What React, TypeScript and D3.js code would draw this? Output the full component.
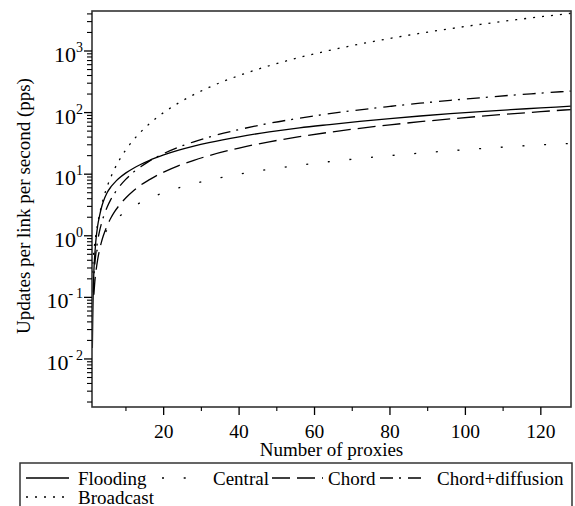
import React from "react";
import * as d3 from "d3";

const nValues = [1, 1.1, 1.2, 1.3, 1.5, 1.75, 2, 2.5, 3, 3.5, 4, 5, 6, 7, 8, 10, 12, 14, 16, 18, 20, 24, 28, 32, 40, 48, 56, 64, 72, 80, 88, 96, 104, 112, 120, 128];

const flooding = [null, 0.015, 0.045, 0.1, 0.27, 0.5, 0.8, 1.45, 2.1, 2.85, 3.6, 5.0, 6.2, 7.3, 8.4, 10.5, 12.5, 14.5, 16.5, 18.5, 20.5, 24.5, 28.5, 32.5, 40.5, 48.5, 56.5, 64, 72, 80, 88, 96, 104, 111.5, 119, 127];
const central = [0.25, 0.275, 0.3, 0.325, 0.375, 0.44, 0.5, 0.62, 0.75, 0.87, 1.0, 1.25, 1.5, 1.75, 2.0, 2.5, 3.0, 3.5, 4.0, 4.5, 5.0, 6.0, 7.0, 8.0, 10.0, 12.0, 14.0, 16.0, 18.0, 20.0, 22.0, 24.0, 26.0, 28.0, 30.0, 31.5];
const chord = [null, null, null, null, 0.11, 0.18, 0.25, 0.41, 0.59, 0.79, 1.0, 1.45, 1.94, 2.46, 3.0, 4.15, 5.4, 6.7, 8.0, 9.4, 10.8, 13.8, 16.8, 20.0, 26.6, 33.5, 40.6, 48.0, 55.5, 63.2, 71.1, 79.0, 87.1, 95.3, 103.6, 112.0];
const chordDiffusion = [null, null, null, 0.12, 0.22, 0.35, 0.5, 0.83, 1.19, 1.58, 2.0, 2.9, 3.9, 4.9, 6.0, 8.3, 10.8, 13.3, 16.0, 18.8, 21.6, 27.5, 33.6, 40.0, 53.0, 67.0, 81.0, 96.0, 111.0, 126.0, 142.0, 158.0, 174.0, 191.0, 207.0, 224.0];
const broadcast = [0.25, 0.3, 0.36, 0.42, 0.56, 0.77, 1.0, 1.56, 2.25, 3.06, 4.0, 6.25, 9.0, 12.25, 16.0, 25.0, 36.0, 49.0, 64.0, 81.0, 100.0, 144.0, 196.0, 256.0, 400.0, 576.0, 784.0, 1024.0, 1296.0, 1600.0, 1936.0, 2304.0, 2704.0, 3136.0, 3600.0, 4096.0];

const seriesNames = ["Flooding", "Central", "Chord", "Chord+diffusion", "Broadcast"];
const seriesValues = [flooding, central, chord, chordDiffusion, broadcast];
const seriesDash = ["", "2 19.7", "18 7", "13 6 2 7", "2 7"];

const xMajorTicks = [20, 40, 60, 80, 100, 120];
const xMinorTicks = [10, 30, 50, 70, 90, 110];
const yExponents = [-2, -1, 0, 1, 2, 3];

const W = 575;
const H = 506;
const left = 92, right = 571, top = 11, bottom = 407;
const FONT = "'Liberation Serif', 'Times New Roman', serif";

export default function App() {
  const x = d3.scaleLinear().domain([1, 128]).range([left, right]);
  const y = d3.scaleLog().domain([0.00166, 4460]).range([bottom, top]);

  const line = d3
    .line<[number, number | null]>()
    .defined((d) => d[1] != null)
    .x((d) => x(d[0]))
    .y((d) => y(d[1] as number))
    .curve(d3.curveMonotoneX);

  const minorY: number[] = [];
  for (let e = -3; e <= 3; e++) {
    for (let m = 2; m <= 9; m++) {
      const v = m * Math.pow(10, e);
      if (v >= 0.00166 && v <= 4460) minorY.push(v);
    }
  }

  const legendItems = [
    { i: 0, x0: 26, x1: 69, tx: 78, ty: 485 },
    { i: 1, x0: 162, x1: 186, tx: 213, ty: 485 },
    { i: 2, x0: 272, x1: 323, tx: 328, ty: 485 },
    { i: 3, x0: 380, x1: 427, tx: 437, ty: 485 },
    { i: 4, x0: 26, x1: 69, tx: 78, ty: 504 },
  ];

  return (
    <div style={{ position: "fixed", left: 0, top: 0 }}>
      <svg width={W} height={H} style={{ display: "block", background: "#fff" }} fontFamily={FONT}>
        <defs>
          <clipPath id="plotclip">
            <rect x={left} y={top} width={right - left} height={bottom - top} />
          </clipPath>
        </defs>
        {/* series */}
        <g clipPath="url(#plotclip)">
          {seriesValues.map((vals, i) => (
            <path
              key={i}
              d={line(nValues.map((n, k) => [n, vals[k]] as [number, number | null])) || ""}
              fill="none"
              stroke="#000"
              strokeWidth={1.3}
              strokeDasharray={seriesDash[i] || undefined}
            />
          ))}
        </g>
        {/* frame */}
        <rect x={left} y={top} width={right - left} height={bottom - top} fill="none" stroke="#333" strokeWidth={1.6} />
        {/* y ticks */}
        {yExponents.map((e) => (
          <line key={"ym" + e} x1={left - 8} x2={left} y1={y(Math.pow(10, e))} y2={y(Math.pow(10, e))} stroke="#000" strokeWidth={1.3} />
        ))}
        {minorY.map((v, k) => (
          <line key={"yn" + k} x1={left - 5} x2={left} y1={y(v)} y2={y(v)} stroke="#000" strokeWidth={1.1} />
        ))}
        {yExponents.map((e) => (
          <text key={"yl" + e} x={83} y={y(Math.pow(10, e)) + 11} textAnchor="end" fontSize={22} fill="#000">
            10
            <tspan fontSize={14} dy={-10}>
              {e < 0 ? "-\u2009" + Math.abs(e) : String(e)}
            </tspan>
          </text>
        ))}
        {/* x ticks */}
        {xMajorTicks.map((t) => (
          <line key={"xm" + t} x1={x(t)} x2={x(t)} y1={bottom} y2={bottom + 8} stroke="#000" strokeWidth={1.3} />
        ))}
        {xMinorTicks.map((t) => (
          <line key={"xn" + t} x1={x(t)} x2={x(t)} y1={bottom} y2={bottom + 4} stroke="#000" strokeWidth={1.1} />
        ))}
        {xMajorTicks.map((t) => (
          <text key={"xl" + t} x={x(t)} y={bottom + 31} textAnchor="middle" fontSize={19.5} fill="#000">
            {t}
          </text>
        ))}
        {/* axis titles */}
        <text x={(left + right) / 2} y={456} textAnchor="middle" fontSize={19} fill="#000">
          Number of proxies
        </text>
        <text transform={`translate(30,${(top + bottom) / 2 - 3}) rotate(-90)`} textAnchor="middle" fontSize={19} fill="#000">
          Updates per link per second (pps)
        </text>
        {/* legend */}
        <rect x={20} y={463} width={552} height={60} fill="none" stroke="#333" strokeWidth={1.5} />
        {legendItems.map((it) => (
          <g key={"lg" + it.i}>
            <line
              x1={it.x0}
              x2={it.x1}
              y1={it.ty - 7}
              y2={it.ty - 7}
              stroke="#000"
              strokeWidth={1.3}
              strokeDasharray={seriesDash[it.i] || undefined}
            />
            <text x={it.tx} y={it.ty} fontSize={19} fill="#000">
              {seriesNames[it.i]}
            </text>
          </g>
        ))}
      </svg>
    </div>
  );
}
